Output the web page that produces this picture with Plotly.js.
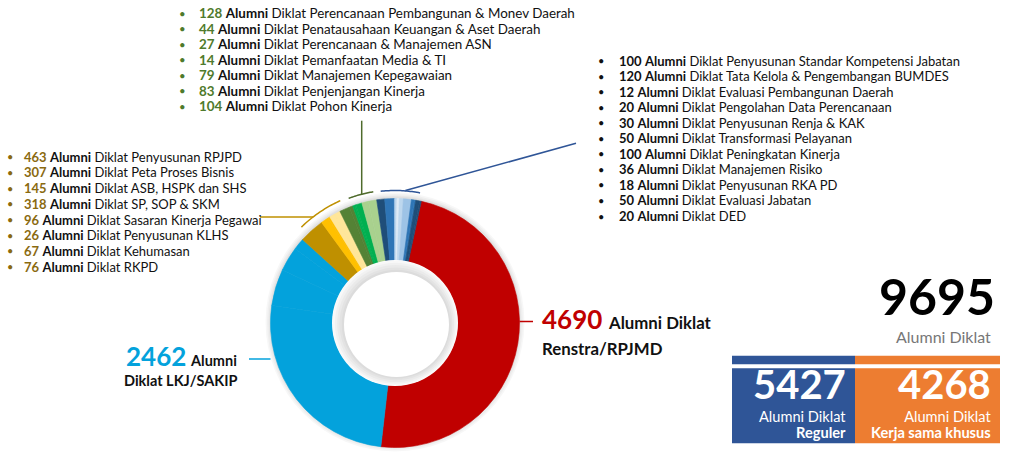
<!DOCTYPE html>
<html>
<head>
<meta charset="utf-8">
<script src="https://cdn.plot.ly/plotly-3.0.1.min.js"></script>
<style>
  html, body { margin: 0; padding: 0; background: #fff; }
  #chart { width: 1030px; height: 455px; }
</style>
</head>
<body>
<div id="chart"></div>
<script>
// main slices
var mainNames = ['Renstra/RPJMD', 'LKJ/SAKIP'];
var mainValues = [4690, 2462];

// gold group
var goldNames = ['Penyusunan RPJPD', 'Peta Proses Bisnis', 'ASB, HSPK dan SHS', 'SP, SOP &amp; SKM',
                 'Sasaran Kinerja Pegawai', 'Penyusunan KLHS', 'Kehumasan', 'RKPD'];
var goldValues = [463, 307, 145, 318, 96, 26, 67, 76];

// green group
var greenNames = ['Perencanaan Pembangunan &amp; Monev Daerah', 'Penatausahaan Keuangan &amp; Aset Daerah',
                  'Perencanaan &amp; Manajemen ASN', 'Pemanfaatan Media &amp; TI', 'Manajemen Kepegawaian',
                  'Penjenjangan Kinerja', 'Pohon Kinerja'];
var greenValues = [128, 44, 27, 14, 79, 83, 104];

// blue group
var blueNames = ['Penyusunan Standar Kompetensi Jabatan', 'Tata Kelola &amp; Pengembangan BUMDES',
                 'Evaluasi Pembangunan Daerah', 'Pengolahan Data Perencanaan', 'Penyusunan Renja &amp; KAK',
                 'Transformasi Pelayanan', 'Peningkatan Kinerja', 'Manajemen Risiko', 'Penyusunan RKA PD',
                 'Evaluasi Jabatan', 'DED'];
var blueValues = [100, 120, 12, 20, 30, 50, 100, 36, 18, 50, 20];

var totalAlumni = 9695;
var regulerAlumni = 5427;
var khususAlumni = 4268;

// slice colours (same order as the values)
var mainColors = ['#C00000', '#03A2DC'];
var goldColors = ['#03A2DC', '#03A2DC', '#03A2DC', '#BF9000', '#FFC000', '#FFC000', '#FFE699', '#FFE699'];
var greenColors = ['#548235', '#548235', '#00B050', '#00B050', '#00B050', '#A9D18E', '#A9D18E'];
var blueColors = ['#1F4E79', '#2E75B6', '#9DC3E6', '#BDD7EE', '#DEEBF7', '#BDD7EE', '#9DC3E6', '#2E75B6', '#2E75B6', '#1F4E79', '#1F4E79'];

var W = 1030, H = 455;
var cx = 395, cy = 323, R = 124.5, RH = 62.5;
function px(x) { return x / W; }
function py(y) { return 1 - y / H; }

var labels = [], values = [], colors = [];
function addGroup(n, v, c) {
  for (var i = 0; i < v.length; i++) { labels.push(n[i]); values.push(v[i]); colors.push(c[i]); }
}
addGroup(mainNames, mainValues, mainColors);
addGroup(goldNames, goldValues, goldColors);
addGroup(greenNames, greenValues, greenColors);
addGroup(blueNames, blueValues, blueColors);

var donut = {
  type: 'pie',
  labels: labels,
  values: values,
  hole: RH / R,
  sort: false,
  direction: 'clockwise',
  rotation: 12.2,
  textinfo: 'none',
  hoverinfo: 'label+value',
  marker: { colors: colors, line: { color: colors, width: 0.6 } },
  domain: { x: [px(cx - R), px(cx + R)], y: [py(cy + R), py(cy - R)] }
};

var font = 'Lato, "Open Sans", sans-serif';
var ann = [];
function txt(x, y, text, size, color, anchor) {
  ann.push({ xref: 'paper', yref: 'paper', x: px(x), y: py(y), text: text, showarrow: false,
             xanchor: anchor || 'left', yanchor: 'middle', align: anchor || 'left',
             font: { family: font, size: size, color: color } });
}

function list(names, vals, numColor, bulletX, textX, y0, step, size) {
  for (var i = 0; i < vals.length; i++) {
    var y = y0 + i * step;
    txt(bulletX, y, '•', size - 2, numColor, 'center');
    txt(textX, y, '<span style="color:' + numColor + '"><b>' + vals[i] + '</b></span> <b>Alumni</b> Diklat ' + names[i], size, '#111');
  }
}
list(greenNames, greenValues, '#4F7A2C', 182, 197, 13, 15.55, 13.4);
list(blueNames, blueValues, '#111', 601, 617, 60.7, 15.53, 13);
list(goldNames, goldValues, '#8A6A10', 10, 22, 156.7, 15.7, 13);

// big labels
txt(540, 319, '<b>' + mainValues[0] + '</b>', 26, '#C00000');
txt(606, 322, '<b>Alumni Diklat</b>', 16.8, '#111');
txt(540, 348, '<b>' + mainNames[0] + '</b>', 16.8, '#111');
txt(188, 356, '<b>' + mainValues[1] + '</b>', 26, '#03A2DC', 'right');
txt(239, 360, '<b>Alumni</b>', 14.5, '#111', 'right');
txt(239, 380, '<b>Diklat ' + mainNames[1] + '</b>', 14.5, '#111', 'right');

// summary panel
function captions(x, y, a, b) {
  txt(x, y, '<span style="font-size:14.6px">' + a + '</span><br><span style="font-size:14.6px"><b>' + b + '</b></span>',
      12.3, '#fff', 'right');
}
txt(997, 296, '<b>' + totalAlumni + '</b>', 50, '#000', 'right');
txt(993, 336, 'Alumni Diklat', 16, '#777', 'right');
txt(848, 384, '<b>' + regulerAlumni + '</b>', 40, '#fff', 'right');
captions(848, 424.5, 'Alumni Diklat', 'Reguler');
txt(993, 384, '<b>' + khususAlumni + '</b>', 40, '#fff', 'right');
captions(993, 424.5, 'Alumni Diklat', 'Kerja sama khusus');

var shapes = [];
function rect(x0, y0, x1, y1, color) {
  shapes.push({ type: 'rect', xref: 'paper', yref: 'paper', x0: px(x0), x1: px(x1), y0: py(y1), y1: py(y0),
                fillcolor: color, line: { width: 0 }, layer: 'below' });
}
rect(732, 355.7, 855, 364.3, '#2F5597');
rect(855, 355.7, 1000, 364.3, '#ED7D31');
rect(732, 368.3, 855, 443.3, '#2F5597');
rect(855, 368.3, 1000, 443.3, '#ED7D31');

function circle(x, y, r, fill, layer) {
  shapes.push({ type: 'circle', xref: 'paper', yref: 'paper', x0: px(x - r), x1: px(x + r), y0: py(y + r), y1: py(y - r),
                fillcolor: fill, line: { width: 0 }, layer: layer });
}
// soft halo around the ring
[5, 3.5, 2, 1].forEach(function (d) { circle(cx, cy - 1, R + d, 'rgba(0,0,0,0.03)', 'below'); });
// white hole with a soft inset shadow
circle(cx, cy, RH + 0.5, '#fff', 'above');
[0, 2, 4, 6, 8].forEach(function (d) { circle(cx + d * 0.15, cy + d * 0.15, RH - d, 'rgba(0,0,0,0.028)', 'above'); });
circle(cx + 1.5, cy + 1.5, RH - 10, '#fff', 'above');

function line(x0, y0, x1, y1, color) {
  shapes.push({ type: 'line', xref: 'paper', yref: 'paper', x0: px(x0), y0: py(y0), x1: px(x1), y1: py(y1),
                line: { color: color, width: 1.5 } });
}
function arc(r, a0, a1, color) {
  var p = '';
  for (var i = 0; i <= 24; i++) {
    var a = (a0 + (a1 - a0) * i / 24) * Math.PI / 180;
    p += (i ? ' L' : 'M') + px(cx + r * Math.sin(a)).toFixed(5) + ',' + py(cy - r * Math.cos(a)).toFixed(5);
  }
  shapes.push({ type: 'path', xref: 'paper', yref: 'paper', path: p, line: { color: color, width: 1.5 } });
}
// connectors
line(519.5, 321.5, 533, 321.5, '#C00000');
line(249, 359, 270.5, 359, '#03A2DC');
arc(134, -44.3, -24.1, '#BF9000');
line(260, 217, cx - Math.sqrt(134 * 134 - 106 * 106), 217, '#BF9000');
arc(133, -20.4, -9.4, '#4F6B2C');
line(361.7, 120.7, 361.7, cy - Math.sqrt(133 * 133 - 33.3 * 33.3), '#4F6B2C');
arc(132.5, -6.2, 10.9, '#2F5597');
line(405.4, 190.5, 576, 143.3, '#2F5597');

var layout = {
  width: W, height: H,
  margin: { l: 0, r: 0, t: 0, b: 0 },
  paper_bgcolor: '#fff',
  showlegend: false,
  annotations: ann,
  shapes: shapes
};

Plotly.newPlot('chart', [donut], layout, { displayModeBar: false, staticPlot: true });
</script>
</body>
</html>
